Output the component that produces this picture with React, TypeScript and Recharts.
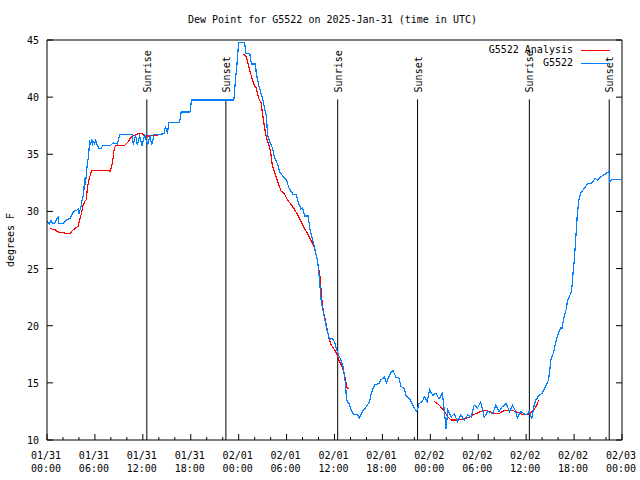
import { LineChart, Line, XAxis, YAxis, ReferenceLine } from "recharts";

const FONT = '"DejaVu Sans Mono", "Liberation Mono", monospace';
const RED = "#ff0000";
const BLUE = "#0080ff";

// x is hours since 2025-01-31 00:00 UTC
const hourTicks = [
  0, 2, 4, 6, 8, 10, 12, 14, 16, 18, 20, 22, 24, 26, 28, 30, 32, 34, 36, 38, 40, 42, 44, 46, 48, 50, 52, 54, 56,
  58, 60, 62, 64, 66, 68, 70, 72,
];
const tickDates = ["01/31", "01/31", "01/31", "01/31", "02/01", "02/01", "02/01", "02/01", "02/02", "02/02", "02/02", "02/02", "02/03"];
const tickTimes = ["00:00", "06:00", "12:00", "18:00", "00:00", "06:00", "12:00", "18:00", "00:00", "06:00", "12:00", "18:00", "00:00"];
const degreeTicks = [10, 15, 20, 25, 30, 35, 40, 45];

const sunEvents = [
  { h: 12.5, name: "Sunrise" },
  { h: 22.4, name: "Sunset" },
  { h: 36.4, name: "Sunrise" },
  { h: 46.4, name: "Sunset" },
  { h: 60.4, name: "Sunrise" },
  { h: 70.4, name: "Sunset" },
];
const sunLineTop = 39.8;

// G5522 Analysis (gaps where no analysis)
const analysis: [number, number | null][] = [
  [0.4, 28.5], [1.0, 28.4], [1.4, 28.2], [2.25, 28.1], [2.9, 28.1], [3.3, 28.4], [3.7, 28.6], [3.9, 28.7],
  [4.1, 29.25], [4.3, 29.8], [4.5, 30.5], [4.75, 30.9], [4.9, 31.0], [5.1, 32.2], [5.3, 32.9], [5.6, 33.6],
  [7.8, 33.6], [7.9, 33.5], [8.1, 33.9], [8.3, 34.8], [8.4, 35.4], [8.6, 35.8], [9.75, 35.8], [10.2, 36.1],
  [10.4, 36.4], [10.7, 36.6], [11.1, 36.7], [11.6, 36.85], [11.9, 36.85], [12.2, 36.6], [12.7, 36.6], [13.9, 36.7],
  [19.0, null],
  [24.5, 43.8], [24.9, 43.6], [25.2, 42.9], [25.4, 42.3], [25.6, 41.8], [25.9, 41.1], [26.2, 40.8], [26.5, 39.9],
  [26.8, 39.5], [27.0, 38.5], [27.25, 37.3], [27.5, 36.4], [27.7, 36.0], [28.0, 35.25], [28.2, 34.1], [28.5, 33.4],
  [28.9, 32.6], [29.3, 31.8], [29.75, 31.5], [30.2, 30.9], [30.6, 30.6], [31.0, 30.15], [31.4, 29.7], [31.8, 29.1],
  [32.25, 28.5], [32.7, 27.96], [33.1, 27.4], [33.5, 26.8], [33.8, 25.9], [34.0, 25.05], [34.2, 24.2], [34.4, 22.4],
  [34.6, 21.3], [34.96, 20.1], [35.3, 18.9], [35.6, 18.3], [36.0, 17.9], [36.3, 17.5], [36.6, 16.9], [36.96, 16.4],
  [37.25, 15.7], [37.5, 14.8], [37.6, 14.5], [37.8, 14.5],
  [43.0, null],
  [48.5, 13.35], [48.9, 13.2], [49.3, 12.9], [49.75, 12.5], [50.2, 12.0], [50.6, 11.75], [51.2, 11.75], [51.8, 11.8],
  [52.5, 11.9], [52.9, 12.0], [53.3, 12.2], [53.7, 12.3], [54.3, 12.5], [54.75, 12.6], [55.4, 12.5], [56.2, 12.3],
  [56.6, 12.3], [57.0, 12.5], [57.5, 12.6], [58.1, 12.6], [58.7, 12.5], [59.3, 12.3], [59.9, 12.2], [60.4, 12.3],
  [60.8, 12.5], [61.2, 12.9], [61.4, 13.2], [61.6, 13.5],
];

// G5522 observations
const observed: [number, number][] = [
  [0.0, 29.1], [0.3, 28.9], [0.5, 29.25], [0.7, 28.95], [1.0, 29.0], [1.2, 29.3], [1.4, 29.5], [1.5, 28.95],
  [2.0, 28.95], [2.4, 29.25], [2.9, 29.4], [3.3, 30.0], [3.7, 30.1], [3.9, 30.2], [4.0, 29.8], [4.25, 30.4],
  [4.4, 31.0], [4.6, 31.6], [4.7, 32.9], [4.8, 32.3], [5.0, 33.8], [5.2, 34.9], [5.35, 36.2], [5.45, 35.8],
  [5.6, 36.3], [5.7, 35.9], [5.8, 36.1], [5.95, 35.9], [6.1, 36.2], [6.3, 35.8], [6.5, 35.5], [6.8, 35.5],
  [7.0, 35.8], [8.0, 35.8], [8.3, 36.0], [8.8, 35.9], [9.1, 36.7], [10.7, 36.7], [10.8, 35.8], [11.1, 36.7],
  [11.3, 35.8], [11.6, 36.6], [11.9, 35.8], [12.25, 36.7], [12.6, 35.8], [12.9, 36.7], [13.1, 35.8], [13.4, 36.7],
  [14.7, 36.8], [14.8, 37.4], [15.1, 36.9], [15.25, 37.8], [16.6, 37.8], [16.8, 38.7], [17.9, 38.7], [18.1, 39.75],
  [23.4, 39.75], [23.6, 41.5], [23.8, 43.0], [24.0, 44.8], [24.75, 44.8], [24.9, 43.8], [25.4, 43.8], [25.6, 42.9],
  [26.1, 42.9], [26.2, 42.1], [26.4, 41.4], [26.6, 40.8], [27.0, 39.9], [27.2, 39.2], [27.5, 38.2], [27.6, 36.7],
  [27.9, 36.1], [28.2, 35.6], [28.5, 34.7], [28.9, 34.1], [29.1, 33.5], [29.5, 33.1], [29.96, 32.8], [30.3, 32.05],
  [30.8, 31.5], [31.2, 31.5], [31.4, 30.9], [31.8, 30.2], [32.0, 30.3], [32.25, 29.6], [32.7, 29.6], [32.9, 28.55],
  [33.1, 27.96], [33.3, 27.4], [33.5, 26.9], [33.7, 26.2], [33.9, 25.6], [34.1, 24.2], [34.3, 22.4], [34.5, 21.5],
  [34.75, 20.7], [35.1, 19.5], [35.4, 18.8], [35.7, 18.9], [36.0, 18.6], [36.4, 17.6], [36.8, 17.0], [37.1, 16.4],
  [37.25, 15.6], [37.4, 14.7], [37.5, 13.5], [37.8, 13.2], [38.1, 12.6], [38.4, 12.2], [38.9, 12.2], [39.1, 11.9],
  [39.5, 12.5], [39.96, 12.9], [40.4, 13.35], [40.6, 14.1], [41.0, 14.8], [41.6, 14.96], [41.8, 15.25], [42.25, 15.5],
  [42.5, 15.0], [42.9, 15.7], [43.3, 16.1], [43.7, 15.5], [44.1, 15.4], [44.3, 14.7], [44.75, 14.5], [44.96, 13.9],
  [45.4, 13.6], [45.7, 13.2], [46.0, 12.8], [46.3, 12.5], [46.6, 13.2], [47.0, 13.35], [47.25, 13.8], [47.6, 13.35],
  [47.9, 14.4], [48.3, 13.9], [48.7, 14.1], [49.1, 13.6], [49.5, 14.1], [49.75, 12.6], [49.96, 11.0], [50.2, 12.6],
  [50.6, 12.0], [51.0, 12.3], [51.4, 11.6], [51.8, 12.2], [52.25, 11.75], [52.7, 12.2], [53.1, 12.0], [53.5, 13.05],
  [53.9, 12.8], [54.3, 13.35], [54.75, 12.0], [55.2, 12.5], [55.8, 12.3], [56.2, 13.05], [56.6, 12.5], [57.0, 12.9],
  [57.5, 13.2], [57.9, 12.5], [58.3, 13.05], [58.7, 12.5], [58.9, 11.9], [59.3, 12.5], [59.75, 12.3], [60.0, 12.2],
  [60.4, 12.5], [60.7, 11.9], [61.0, 13.05], [61.2, 13.5], [61.6, 13.9], [62.0, 14.1], [62.5, 14.8], [62.8, 15.25],
  [62.9, 15.8], [63.1, 17.0], [63.4, 17.6], [63.7, 18.5], [64.0, 19.3], [64.3, 19.8], [64.5, 19.8], [64.75, 20.8],
  [65.0, 21.4], [65.2, 22.25], [65.5, 22.7], [65.7, 23.1], [65.9, 24.9], [66.0, 25.5], [66.2, 27.5], [66.4, 29.7],
  [66.6, 31.0], [66.8, 31.6], [67.25, 32.0], [67.7, 32.4], [68.3, 32.5], [68.6, 32.9], [68.9, 32.75], [69.3, 33.0],
  [69.96, 33.3], [70.4, 33.5], [70.45, 32.6], [70.75, 32.8], [71.9, 32.8],
];

const analysisData = analysis.map(([h, v]) => ({ h, v }));
const observedData = observed.map(([h, v]) => ({ h, v }));

const txt = { fontFamily: FONT, fontSize: 10, fill: "#000" };

function BottomTick({ x, y, payload }: any) {
  const h = payload.value as number;
  const major = h % 6 === 0;
  const i = h / 6;
  return (
    <g>
      <line x1={x} y1={y} x2={x} y2={y - (major ? 6 : 3)} stroke="#000" />
      {major && (
        <>
          <text x={x - 1} y={y + 19} textAnchor="middle" {...txt}>
            {tickDates[i]}
          </text>
          <text x={x - 1} y={y + 32} textAnchor="middle" {...txt}>
            {tickTimes[i]}
          </text>
        </>
      )}
    </g>
  );
}

function TopTick({ x, y, payload }: any) {
  const major = (payload.value as number) % 6 === 0;
  return <line x1={x} y1={y} x2={x} y2={y + (major ? 6 : 3)} stroke="#000" />;
}

function LeftTick({ x, y, payload }: any) {
  return (
    <g>
      <line x1={x} y1={y} x2={x + 6} y2={y} stroke="#000" />
      <text x={x - 8} y={y + 4} textAnchor="end" {...txt}>
        {payload.value}
      </text>
    </g>
  );
}

function RightTick({ x, y }: any) {
  return <line x1={x} y1={y} x2={x - 6} y2={y} stroke="#000" />;
}

function sunLabel(name: string) {
  return (p: any) => {
    const vb = p.viewBox;
    return (
      <text transform={`translate(${vb.x + 4}, ${vb.y - 7}) rotate(-90)`} textAnchor="start" {...txt}>
        {name}
      </text>
    );
  };
}

export default function App() {
  return (
    <div style={{ position: "absolute", left: 0, top: 0, width: 640, height: 480, background: "#fff" }}>
      <div
        style={{
          position: "absolute",
          left: 0,
          width: 665,
          top: 13,
          textAlign: "center",
          fontFamily: FONT,
          fontSize: 10,
          lineHeight: "14px",
        }}
      >
        Dew Point for G5522 on 2025-Jan-31 (time in UTC)
      </div>
      <LineChart width={640} height={480} margin={{ top: 0, right: 0, bottom: 0, left: 0 }}>
        <XAxis
          dataKey="h"
          type="number"
          domain={[0, 72]}
          ticks={hourTicks}
          interval={0}
          height={40}
          tickSize={0}
          tickMargin={0}
          tick={<BottomTick />}
          stroke="#000"
          allowDataOverflow
        />
        <XAxis
          xAxisId="top"
          orientation="top"
          type="number"
          domain={[0, 72]}
          ticks={hourTicks}
          interval={0}
          height={40}
          tickSize={0}
          tickMargin={0}
          tick={<TopTick />}
          stroke="#000"
          allowDataOverflow
        />
        <YAxis
          type="number"
          domain={[10, 45]}
          ticks={degreeTicks}
          interval={0}
          width={47}
          tickSize={0}
          tickMargin={0}
          tick={<LeftTick />}
          stroke="#000"
          allowDataOverflow
          label={{
            value: "degrees F",
            angle: -90,
            position: "insideLeft",
            offset: 10,
            style: { textAnchor: "middle", fontFamily: FONT, fontSize: 10, fill: "#000" },
          }}
        />
        <YAxis
          yAxisId="r"
          orientation="right"
          type="number"
          domain={[10, 45]}
          ticks={degreeTicks}
          interval={0}
          width={18}
          tickSize={0}
          tickMargin={0}
          tick={<RightTick />}
          stroke="#000"
          allowDataOverflow
        />
        {sunEvents.map((s, i) => (
          <ReferenceLine
            key={i}
            segment={[
              { x: s.h, y: sunLineTop },
              { x: s.h, y: 10 },
            ]}
            stroke="#000"
            strokeWidth={1}
            label={sunLabel(s.name)}
          />
        ))}
        <Line
          data={analysisData}
          dataKey="v"
          type="linear"
          stroke={RED}
          strokeWidth={1.2}
          dot={false}
          activeDot={false}
          connectNulls={false}
          isAnimationActive={false}
          style={{ shapeRendering: "crispEdges" }}
        />
        <Line
          data={observedData}
          dataKey="v"
          type="linear"
          stroke={BLUE}
          strokeWidth={1.2}
          dot={false}
          activeDot={false}
          isAnimationActive={false}
          style={{ shapeRendering: "crispEdges" }}
        />
      </LineChart>
      <div style={{ position: "absolute", left: 0, top: 0, width: 640, height: 80, pointerEvents: "none" }}>
        {[
          { name: "G5522 Analysis", color: RED, y: 50 },
          { name: "G5522", color: BLUE, y: 63 },
        ].map((l) => (
          <div key={l.name}>
            <div
              style={{
                position: "absolute",
                right: 640 - 573,
                top: l.y - 7,
                fontFamily: FONT,
                fontSize: 10,
                lineHeight: "14px",
                whiteSpace: "nowrap",
              }}
            >
              {l.name}
            </div>
            <div style={{ position: "absolute", left: 581, top: l.y - 0.5, width: 29, height: 1, background: l.color }} />
          </div>
        ))}
      </div>
    </div>
  );
}
